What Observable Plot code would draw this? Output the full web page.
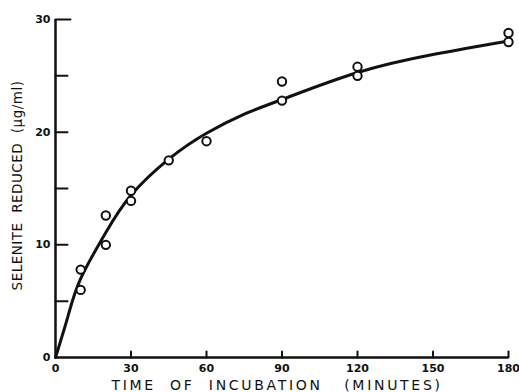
<!DOCTYPE html>
<html>
<head>
<meta charset="utf-8">
<script src="https://cdn.jsdelivr.net/npm/d3@7"></script>
<script src="https://cdn.jsdelivr.net/npm/@observablehq/plot@0.6"></script>
<style>
  html, body { margin: 0; padding: 0; background: #fff; }
  #chart svg { display: block; }
</style>
</head>
<body>
<div id="chart"></div>
<script>
// Observed data (minutes, µg/ml)
const obsTime  = [10, 10, 20, 20, 30, 30, 45, 60, 90, 90, 120, 120, 180, 180];
const obsValue = [7.8, 6.0, 12.6, 10.0, 14.8, 13.9, 17.5, 19.2, 24.5, 22.8, 25.8, 25.0, 28.8, 28.0];

// Fitted curve
const curveTime  = [0, 5, 10, 20, 30, 45, 60, 75, 90, 120, 150, 180];
const curveValue = [0, 3.7, 7.0, 11.1, 14.4, 17.6, 19.9, 21.6, 22.9, 25.3, 26.9, 28.1];

const xTicks = [0, 30, 60, 90, 120, 150, 180];
const yTicks = [0, 10, 20, 30];
const yMinorTicks = [5, 10, 15, 20, 25, 30];
const xTickMarks = [30, 60, 90, 120, 150, 180];

const xLabel = "TIME  OF  INCUBATION   (MINUTES)";
const yLabel = "SELENITE  REDUCED  (µg/ml)";

const obs = obsTime.map((t, i) => ({t, v: obsValue[i]}));
const curve = curveTime.map((t, i) => ({t, v: curveValue[i]}));

const tickShape = { draw(ctx, l) { ctx.moveTo(0, 0); ctx.lineTo(0, -l); } };

const chart = Plot.plot({
  width: 519,
  height: 392,
  marginLeft: 55,
  marginRight: 11,
  marginTop: 19,
  marginBottom: 35,
  style: { fontFamily: "DejaVu Sans", fontWeight: "bold", fontSize: "11px", color: "#111", background: "#fff" },
  x: { domain: [0, 180] },
  y: { domain: [0, 30] },
  marks: [
    Plot.axisX(xTicks, { tickSize: 0, tickPadding: 7, label: null, fontSize: 11, fontWeight: "bold" }),
    Plot.axisY(yTicks, { tickSize: 0, tickPadding: 5, label: null, fontSize: 11, fontWeight: "bold" }),
    Plot.ruleX([0], { stroke: "#111", strokeWidth: 2.5 }),
    Plot.ruleY([0], { stroke: "#111", strokeWidth: 2.5 }),
    Plot.vector(xTickMarks, { x: d => d, y: 0, length: 6, rotate: 0, anchor: "start", shape: tickShape, stroke: "#111", strokeWidth: 2 }),
    Plot.vector(yMinorTicks, { x: 0, y: d => d, length: d => d === 30 ? 10 : 8, rotate: 90, anchor: "start", shape: tickShape, stroke: "#111", strokeWidth: 2 }),
    Plot.line(curve, { x: "t", y: "v", curve: "natural", stroke: "#111", strokeWidth: 3 }),
    Plot.dot(obs, { x: "t", y: "v", r: 4.2, fill: "white", stroke: "#111", strokeWidth: 2 }),
    Plot.text([xLabel], { frameAnchor: "bottom", dy: 32, dx: -5, textAnchor: "middle", text: d => d, fontSize: 14, fontWeight: "normal", fill: "#111" }),
    Plot.text([yLabel], { frameAnchor: "left", dx: -38, dy: -3, rotate: -90, textAnchor: "middle", lineAnchor: "middle", text: d => d, fontSize: 13.5, fontWeight: "normal", fill: "#111" })
  ]
});

const labs = d3.select(chart).selectAll("text").filter(function() {
  const t = this.textContent;
  return t === xLabel || t === yLabel;
}).style("white-space", "pre");
labs.filter(function() { return this.textContent === xLabel; }).style("letter-spacing", "2.7px");
labs.filter(function() { return this.textContent === yLabel; }).style("letter-spacing", "0.5px");

document.getElementById("chart").appendChild(chart);
</script>
</body>
</html>
